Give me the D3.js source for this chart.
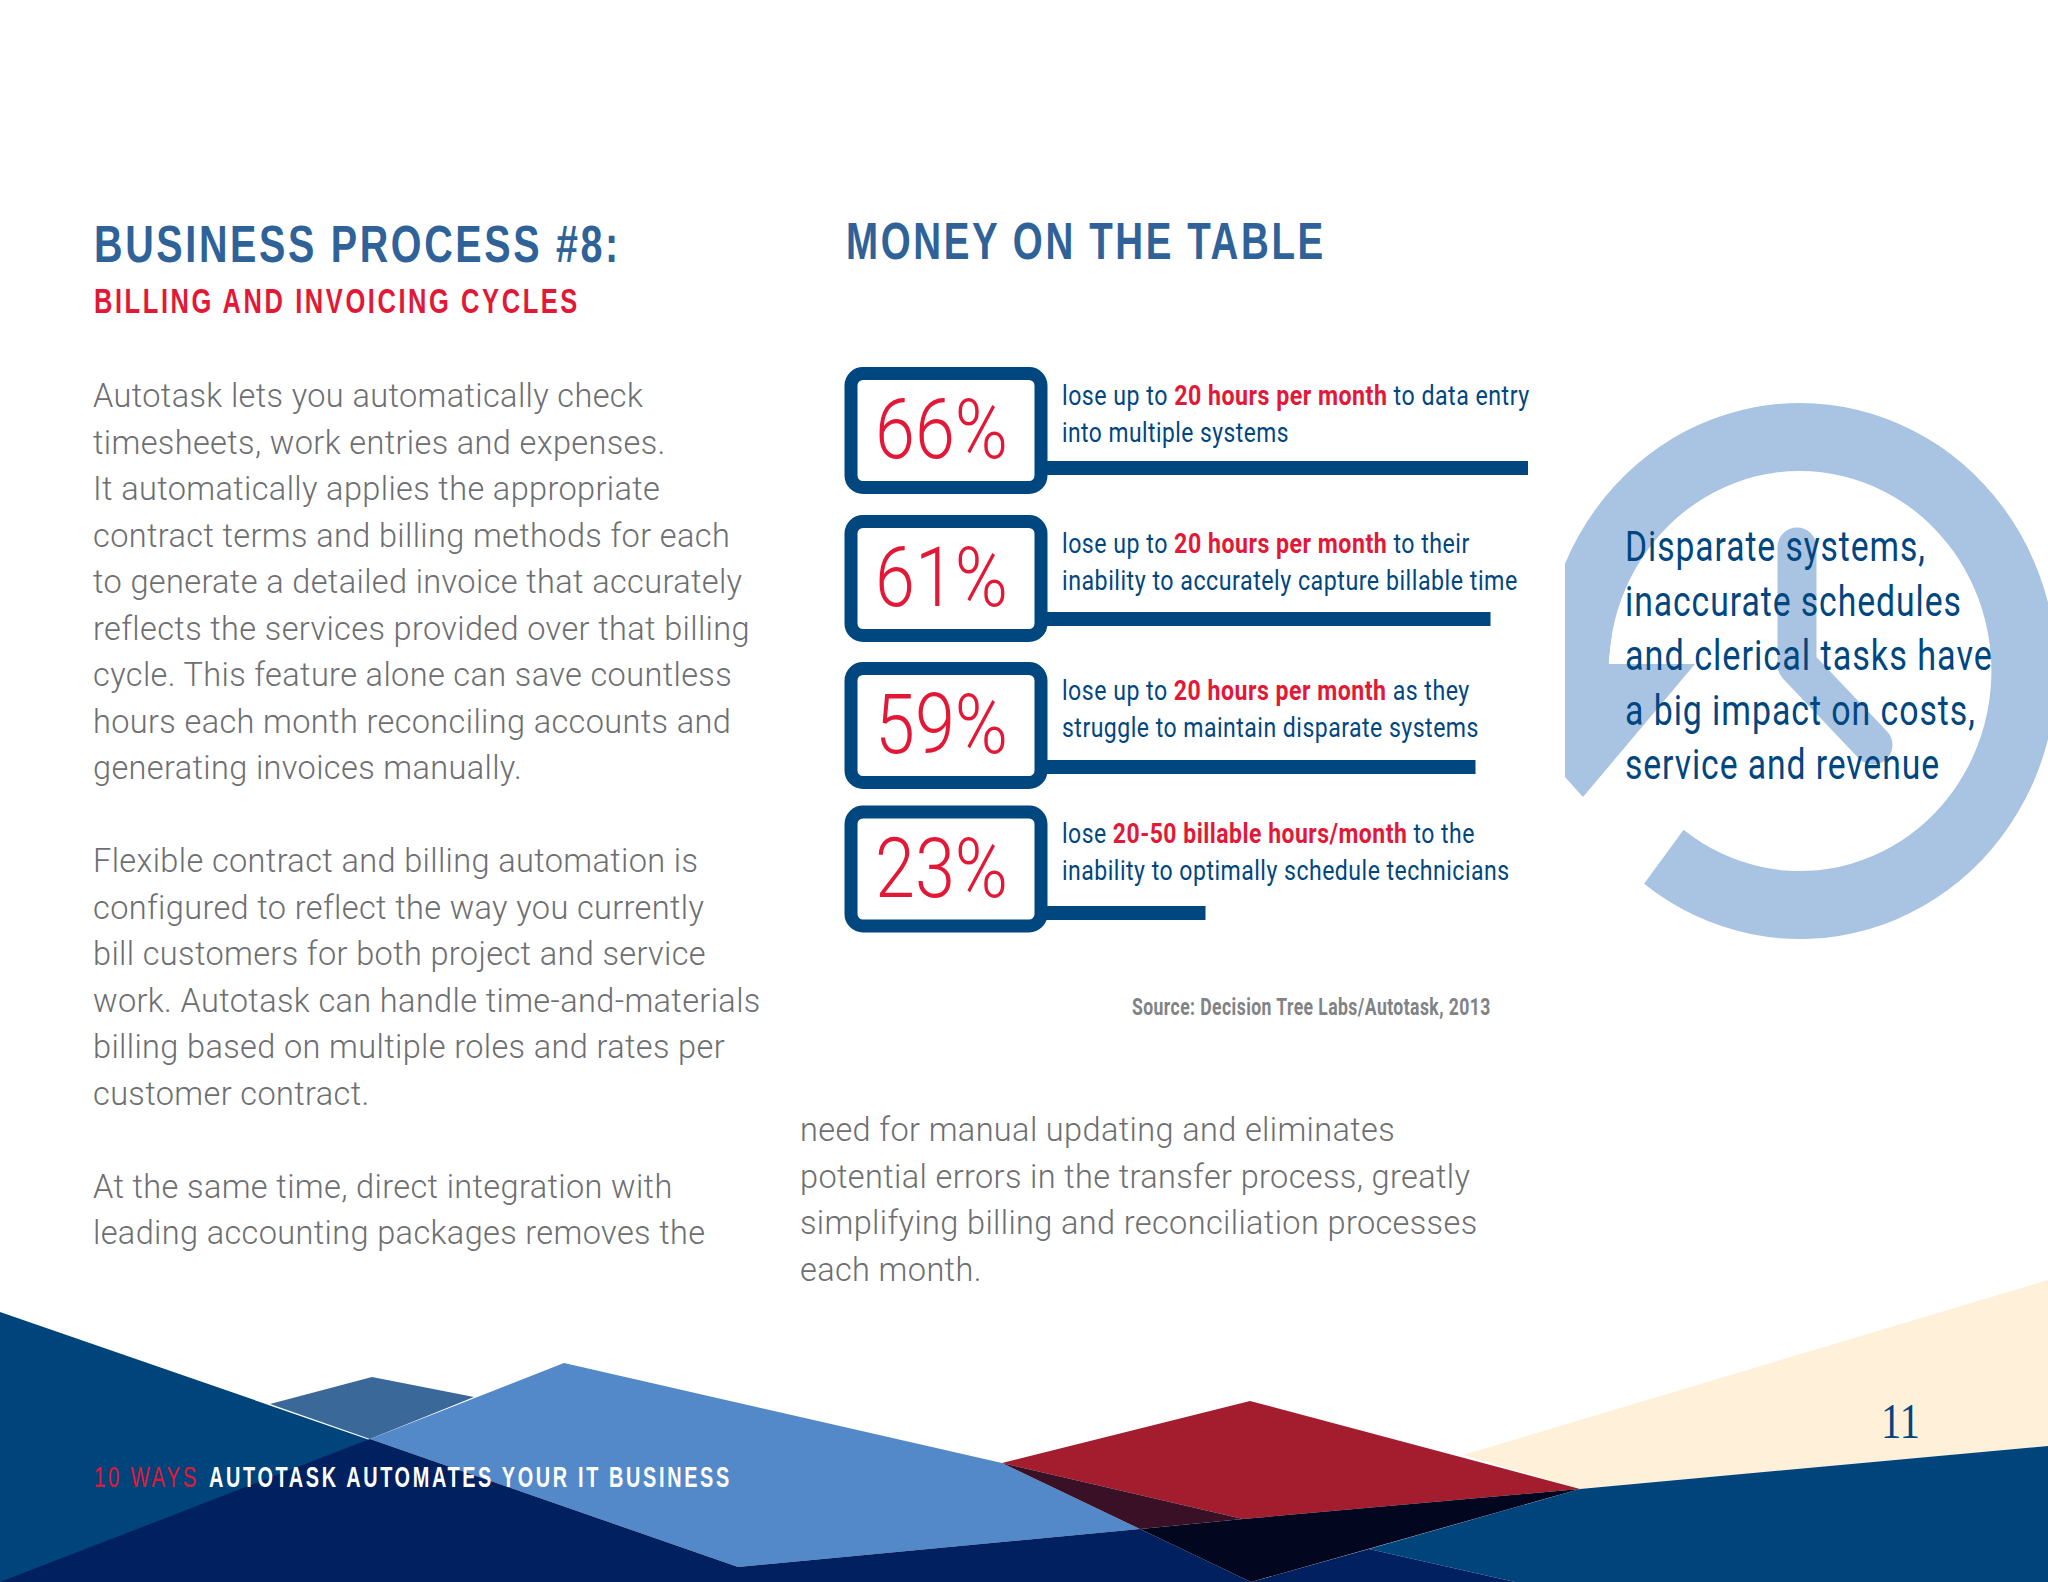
<!DOCTYPE html>
<html>
<head>
<meta charset="utf-8">
<script src="https://cdn.jsdelivr.net/npm/d3@7"></script>
<style>
  html, body { margin: 0; padding: 0; background: #fff; }
  svg { display: block; }
  text { white-space: pre; }
  .narrow { font-family: "Liberation Sans", sans-serif; }
  .thin { font-family: Roboto, sans-serif; }
  .body { font-family: Roboto, "Open Sans", sans-serif; font-weight: 300; font-size: 32.5px; letter-spacing: 0.37px; fill: #6d6e71; }
</style>
</head>
<body>
<script>
// chart values
var categories = ['66%', '61%', '59%', '23%'];
var percentValues = [66, 61, 59, 23];
var rowLines = [
  [[['lose up to ', 0], ['20 hours per month', 1], [' to data entry', 0]], [['into multiple systems', 0]]],
  [[['lose up to ', 0], ['20 hours per month', 1], [' to their', 0]], [['inability to accurately capture billable time', 0]]],
  [[['lose up to ', 0], ['20 hours per month', 1], [' as they', 0]], [['struggle to maintain disparate systems', 0]]],
  [[['lose ', 0], ['20-50 billable hours/month', 1], [' to the', 0]], [['inability to optimally schedule technicians', 0]]]
];
var leftColumn = [
  'Autotask lets you automatically check', 'timesheets, work entries and expenses.',
  'It automatically applies the appropriate', 'contract terms and billing methods for each',
  'to generate a detailed invoice that accurately', 'reflects the services provided over that billing',
  'cycle. This feature alone can save countless', 'hours each month reconciling accounts and',
  'generating invoices manually.', '',
  'Flexible contract and billing automation is', 'configured to reflect the way you currently',
  'bill customers for both project and service', 'work. Autotask can handle time-and-materials',
  'billing based on multiple roles and rates per', 'customer contract.', '',
  'At the same time, direct integration with', 'leading accounting packages removes the'
];
var rightColumn = [
  'need for manual updating and eliminates', 'potential errors in the transfer process, greatly',
  'simplifying billing and reconciliation processes', 'each month.'
];
var calloutLines = [
  'Disparate systems,', 'inaccurate schedules', 'and clerical tasks have',
  'a big impact on costs,', 'service and revenue'
];

var navy = '#00467f', red = '#e31837', headBlue = '#2f6299';

var svg = d3.select('body').append('svg').attr('width', 2048).attr('height', 1582);

// no condensed face is installed, so squeeze a text sideways until it ends at `right`
function fit(sel, x, y, right) {
  sel.each(function () {
    var len = this.getComputedTextLength();
    d3.select(this).attr('x', 0).attr('y', 0)
      .attr('transform', 'translate(' + x + ',' + y + ') scale(' + (right - x) / len + ',1)');
  });
  return sel;
}

// background shapes at the bottom of the page
var shapes = [
  { fill: '#00447c', pts: [[0, 1312], [780, 1582], [0, 1582]] },
  { fill: '#3a6899', pts: [[270, 1404], [372, 1377], [474, 1397], [370, 1439]] },
  { fill: '#5389c8', pts: [[564, 1363], [1002, 1463], [1140, 1529], [738, 1567], [370, 1439]] },
  { fill: '#00205f', pts: [[370, 1439], [738, 1567], [1140, 1529], [1251, 1582], [0, 1582]] },
  { fill: '#fff0d9', pts: [[1463, 1455], [2048, 1280], [2048, 1446], [1580, 1489]] },
  { fill: '#00447c', pts: [[1580, 1489], [2048, 1446], [2048, 1582], [1515, 1582], [1369, 1549]] },
  { fill: '#00205f', pts: [[1251, 1582], [1369, 1549], [1515, 1582]] },
  { fill: '#a31d2f', pts: [[1250, 1401], [1580, 1489], [1243, 1519], [1002, 1463]] },
  { fill: '#3a1026', pts: [[1002, 1463], [1243, 1519], [1140, 1529]] },
  { fill: '#02061f', pts: [[1243, 1519], [1580, 1489], [1251, 1582], [1140, 1529]] }
];
var polygon = d3.line();
svg.append('g').selectAll('path').data(shapes).join('path')
  .attr('fill', function (d) { return d.fill; })
  .attr('d', function (d) { return polygon(d.pts) + 'Z'; });

// clock behind the callout
var clockColor = '#a9c3e2';
var clock = svg.append('g');
svg.append('clipPath').attr('id', 'clock-clip').append('rect')
  .attr('x', 1565).attr('y', 380).attr('width', 483).attr('height', 580);
clock.attr('clip-path', 'url(#clock-clip)');
var ring = d3.arc().innerRadius(200).outerRadius(268)
  .startAngle(-Math.PI * 0.55).endAngle(Math.PI * 1.208);
clock.append('path')
  .attr('transform', 'translate(1800,671) scale(0.957,1)')
  .attr('d', ring())
  .attr('fill', clockColor);
clock.append('path')
  .attr('d', polygon([[1565, 570], [1565, 777], [1583, 797], [1695, 664], [1608, 664], [1620, 570]]) + 'Z')
  .attr('fill', clockColor);
clock.append('path')
  .attr('d', polygon([[1797, 547], [1797, 665], [1873, 745]]))
  .attr('fill', 'none')
  .attr('stroke', clockColor)
  .attr('stroke-width', 39)
  .attr('stroke-linecap', 'round')
  .attr('stroke-linejoin', 'round');

// headings
function heading(str, x, y, size, color, right) {
  return fit(svg.append('text').attr('class', 'narrow')
    .attr('font-size', size).attr('font-weight', 700)
    .attr('letter-spacing', 3.5)
    .attr('fill', color).text(str), x, y, right);
}
heading('BUSINESS PROCESS #8:', 94, 262, 52, headBlue, 621);
heading('BILLING AND INVOICING CYCLES', 94, 313, 35, red, 580);
heading('MONEY ON THE TABLE', 846, 259, 52, headBlue, 1326);

// body copy
var lineStep = 46.5;
svg.append('g').selectAll('text').data(leftColumn).join('text')
  .attr('class', 'body')
  .attr('x', 93)
  .attr('y', function (d, i) { return 407 + i * lineStep; })
  .text(function (d) { return d; });
svg.append('g').selectAll('text').data(rightColumn).join('text')
  .attr('class', 'body')
  .attr('x', 800)
  .attr('y', function (d, i) { return 1141 + i * lineStep; })
  .text(function (d) { return d; });

// the stat rows: bar length follows the percent
var rowTop = d3.scaleOrdinal().domain(categories).range([367, 515, 662, 805.5]);
var barTop = d3.scaleOrdinal().domain(categories).range([94, 97, 98, 100.5]);
var x = d3.scaleLinear().domain([0, 66]).range([1033, 1528]);
// where each text line ends in the picture
var lineEnds = [[1530, 1289], [1470, 1518], [1470, 1479], [1475, 1510]];

var rows = svg.append('g').selectAll('g').data(categories).join('g')
  .attr('transform', function (d) { return 'translate(0,' + rowTop(d) + ')'; });

rows.append('rect')
  .attr('x', 1040)
  .attr('y', function (d) { return barTop(d); })
  .attr('width', function (d, i) { return x(percentValues[i]) - 1040; })
  .attr('height', 14)
  .attr('fill', navy);
rows.append('rect')
  .attr('x', 851).attr('y', 6.5)
  .attr('width', 190).attr('height', 114)
  .attr('rx', 12)
  .attr('fill', '#fff')
  .attr('stroke', navy)
  .attr('stroke-width', 13);
rows.append('text').attr('class', 'thin')
  .attr('font-size', 84).attr('font-weight', 300)
  .attr('fill', red)
  .text(function (d) { return d; })
  .call(fit, 875, 91, 1008);

rows.each(function (d, i) {
  var row = d3.select(this);
  rowLines[i].forEach(function (parts, j) {
    var t = row.append('text').attr('class', 'thin')
      .attr('font-size', 28).attr('letter-spacing', 0.6).attr('fill', navy);
    parts.forEach(function (p) {
      t.append('tspan')
        .attr('fill', p[1] ? red : navy)
        .attr('font-weight', p[1] ? 700 : 400)
        .text(p[0]);
    });
    fit(t, 1062, 37.5 + j * 37, lineEnds[i][j]);
  });
});

svg.append('text').attr('class', 'thin')
  .attr('font-size', 24).attr('font-weight', 700).attr('letter-spacing', 0.6).attr('fill', '#808285')
  .text('Source: Decision Tree Labs/Autotask, 2013')
  .call(fit, 1132, 1015, 1491);

// callout over the clock
var calloutEnds = [1926, 1962, 1993, 1976, 1940];
svg.append('g').selectAll('text').data(calloutLines).join('text')
  .attr('class', 'thin')
  .attr('font-size', 43).attr('letter-spacing', 1.2)
  .attr('fill', navy)
  .text(function (d) { return d; })
  .each(function (d, i) { fit(d3.select(this), 1625, 561 + i * 54.6, calloutEnds[i]); });

// footer
svg.append('text').attr('class', 'narrow')
  .attr('font-size', 30).attr('letter-spacing', 4).attr('fill', red)
  .text('10 WAYS')
  .call(fit, 94, 1487, 199);
svg.append('text').attr('class', 'narrow')
  .attr('font-size', 30).attr('letter-spacing', 4).attr('font-weight', 700).attr('fill', '#fff')
  .text('AUTOTASK AUTOMATES YOUR IT BUSINESS')
  .call(fit, 209, 1487, 732);

svg.append('text')
  .attr('font-family', '"Liberation Serif", serif')
  .attr('font-size', 50).attr('fill', navy)
  .text('11')
  .call(fit, 1881, 1438, 1920);
</script>
</body>
</html>
